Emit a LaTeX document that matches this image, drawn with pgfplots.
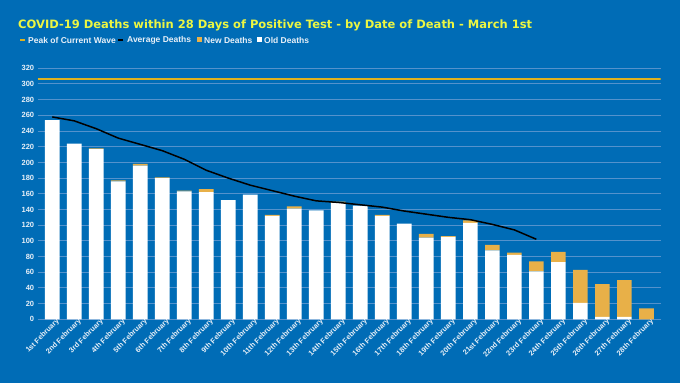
\documentclass[border=0pt]{standalone}
\usepackage{pgfplots}
\pgfplotsset{compat=1.18}
\usepackage{fontspec}
\setmainfont{Liberation Sans}
\newfontfamily\titlefont{DejaVu Sans}
\definecolor{bgblue}{RGB}{0,108,182}
\definecolor{gridc}{RGB}{84,146,204}
\definecolor{newc}{RGB}{232,176,72}
\definecolor{peakc}{RGB}{222,178,32}
\definecolor{titlec}{RGB}{236,246,66}
\definecolor{txtc}{RGB}{232,240,248}
\pgfplotstableread{
x old new avg
0 254 0 258
1 224 0 253
2 217 1 243
3 176 1 231
4 196 2 223
5 180 1 215
6 163 1 204
7 162 4 190
8 152 0 180
9 159 0 171
10 132 1 164
11 141 3 157
12 139 0 151
13 148 2 149
14 145 0 146
15 132 1 143
16 122 0 138
17 104 5 134
18 105 1 130
19 123 3 127
20 88 7 121
21 82 3 114
22 61 13 102
23 73 13 nan
24 21 42 nan
25 3 42 nan
26 3 47 nan
27 0 14 nan
}\datatable
\begin{document}
\begin{tikzpicture}[x=1pt,y=1pt]
\fill[bgblue] (0,0) rectangle (680,383);
\useasboundingbox (0,0) rectangle (680,383);
\node[anchor=west,text=titlec,font=\titlefont\bfseries\fontsize{11.5}{13}\selectfont,inner sep=0] at (18,358) {COVID-19 Deaths within 28 Days of Positive Test - by Date of Death - March 1st};
\begin{scope}[font=\bfseries\fontsize{8.5}{10}\selectfont,text=txtc]
\draw[peakc,line width=2] (20,343) -- (25,343);
\node[anchor=west,inner sep=0] at (28,343) {Peak of Current Wave};
\draw[black,line width=2] (118,343) -- (123,343);
\node[anchor=west,inner sep=0] at (127,343) {Average Deaths};
\fill[newc] (197,340.5) rectangle (202,345.5);
\node[anchor=west,inner sep=0] at (204,343) {New Deaths};
\fill[white] (257,340.5) rectangle (262,345.5);
\node[anchor=west,inner sep=0] at (264,343) {Old Deaths};
\end{scope}
\begin{axis}[
  at={(37.7pt,63.7pt)}, anchor=south west,
  scale only axis, width=623pt, height=251pt,
  xmin=-0.66, xmax=27.65, ymin=0, ymax=320,
  ybar stacked, bar width=14.7pt,
  axis x line*=bottom, axis y line*=left,
  y axis line style={draw=none},
  x axis line style={draw=gridc,line width=1pt,-},
  ymajorgrids, grid style={gridc,line width=1pt},
  major tick length=0pt,
  ytick={0,20,...,320},
  xtick={0,...,27},
  xticklabels={1st February,2nd February,3rd February,4th February,5th February,6th February,7th February,8th February,9th February,10th February,11th February,12th February,13th February,14th February,15th February,16th February,17th February,18th February,19th February,20th February,21st February,22nd February,23rd February,24th February,25th February,26th February,27th February,28th February},
  xticklabel style={rotate=45,anchor=north east,font=\bfseries\fontsize{7.3}{8}\selectfont,text=txtc,inner sep=0.5pt,xshift=4pt,yshift=-1pt},
  yticklabel style={font=\bfseries\fontsize{7.5}{8}\selectfont,text=txtc},
  /pgf/number format/assume math mode=true,
  clip=false,
]
\addplot[fill=white,draw=none] table[x=x,y=old] {\datatable};
\addplot[fill=newc,draw=none] table[x=x,y=new] {\datatable};
\end{axis}
\begin{axis}[
  at={(37.7pt,63.7pt)}, anchor=south west,
  scale only axis, width=623pt, height=251pt,
  xmin=-0.66, xmax=27.65, ymin=0, ymax=320,
  axis lines=none, unbounded coords=jump,
]
\addplot[black,line width=1.5pt,no marks] table[x=x,y=avg] {\datatable};
\addplot[peakc,line width=2pt,no marks] coordinates {(-0.66,306) (27.65,306)};
\end{axis}
\end{tikzpicture}
\end{document}
